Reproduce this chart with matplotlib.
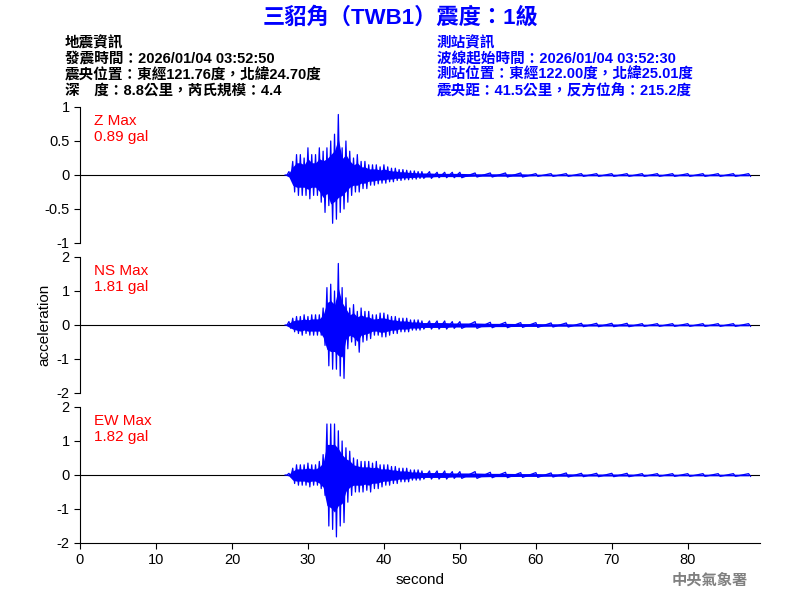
import matplotlib
matplotlib.use("Agg")
import matplotlib.pyplot as plt
import numpy as np

plt.rcParams['font.family'] = ['Liberation Sans', 'Noto Sans CJK TC', 'DejaVu Sans']

t_fine = [27.0,27.5,28,28.5,29,29.5,30,30.5,31,31.5,32,32.5,33,33.5,34,34.5,35,35.5,36,36.5,37,37.5,38,38.5,39,39.5,40,40.5,41,41.5,42,42.5,43,43.5,44,44.5,45]
t_coarse = [46,47,48,49,50,52,54,56,58,60,62,64,66,68,70,72,74,76,78,80,82,84,86,88]

z_up = [0,0.05,0.2,0.3,0.3,0.25,0.4,0.3,0.3,0.4,0.35,0.4,0.5,0.6,0.89,0.4,0.5,0.35,0.25,0.3,0.2,0.2,0.15,0.15,0.15,0.12,0.15,0.12,0.1,0.1,0.08,0.08,0.07,0.06,0.06,0.05,0.05]
z_lo = [0,-0.05,-0.25,-0.3,-0.3,-0.3,-0.35,-0.3,-0.3,-0.4,-0.55,-0.45,-0.71,-0.65,-0.55,-0.5,-0.4,-0.3,-0.25,-0.25,-0.2,-0.2,-0.15,-0.15,-0.13,-0.12,-0.12,-0.1,-0.1,-0.08,-0.08,-0.07,-0.07,-0.06,-0.06,-0.05,-0.05]
z_up_c = [0.05,0.04,0.04,0.04,0.04,0.03,0.03,0.03,0.03,0.02,0.02,0.02,0.02,0.02,0.02,0.02,0.02,0.02,0.02,0.02,0.02,0.02,0.02,0.02]

ns_up = [0,0.1,0.2,0.25,0.25,0.3,0.25,0.3,0.3,0.3,0.5,1.1,1.2,1.0,1.81,1.1,0.8,0.5,0.6,0.4,0.5,0.4,0.4,0.3,0.3,0.35,0.35,0.3,0.25,0.25,0.2,0.2,0.2,0.15,0.15,0.15,0.12]
ns_lo = [0,-0.1,-0.2,-0.25,-0.3,-0.25,-0.3,-0.3,-0.3,-0.3,-0.6,-1.2,-1.3,-1.3,-1.5,-1.57,-0.7,-0.5,-0.6,-0.8,-0.5,-0.45,-0.4,-0.3,-0.3,-0.35,-0.35,-0.3,-0.25,-0.25,-0.2,-0.2,-0.2,-0.15,-0.15,-0.15,-0.12]
ns_up_c = [0.12,0.12,0.12,0.1,0.1,0.1,0.08,0.08,0.07,0.07,0.06,0.06,0.05,0.05,0.05,0.05,0.04,0.04,0.04,0.04,0.04,0.04,0.04,0.04]

ew_up = [0,0.05,0.2,0.3,0.3,0.3,0.35,0.3,0.3,0.4,0.6,1.5,1.5,1.5,1.3,1.0,0.8,0.7,0.5,0.45,0.4,0.4,0.4,0.35,0.4,0.3,0.3,0.3,0.25,0.25,0.2,0.2,0.2,0.15,0.15,0.15,0.12]
ew_lo = [0,-0.05,-0.25,-0.3,-0.3,-0.3,-0.35,-0.3,-0.3,-0.4,-0.6,-1.5,-1.6,-1.82,-1.5,-1.4,-0.8,-0.6,-0.5,-0.5,-0.5,-0.45,-0.5,-0.4,-0.4,-0.35,-0.3,-0.3,-0.25,-0.25,-0.2,-0.2,-0.2,-0.15,-0.15,-0.15,-0.12]
ew_up_c = [0.12,0.12,0.12,0.1,0.1,0.1,0.08,0.08,0.07,0.07,0.06,0.06,0.05,0.05,0.05,0.05,0.04,0.04,0.04,0.04,0.04,0.04,0.04,0.04]

labels = ["Z Max\n0.89 gal", "NS Max\n1.81 gal", "EW Max\n1.82 gal"]
ylims = [1, 2, 2]
yticks = [[-1,-0.5,0,0.5,1],[-2,-1,0,1,2],[-2,-1,0,1,2]]

fig = plt.figure(figsize=(8,6), dpi=100)
W, H = 800, 600
panels = [(107,243),(257,393),(407,543)]
data = [(z_up,z_lo,z_up_c),(ns_up,ns_lo,ns_up_c),(ew_up,ew_lo,ew_up_c)]
t = np.array(t_fine + t_coarse)
for i,((top,bot),(up,lo,uc)) in enumerate(zip(panels,data)):
    ax = fig.add_axes([80/W, 1-bot/H, 680/W, (bot-top)/H])
    u = np.array(up + uc); l = np.array(lo + [-v for v in uc])
    tt = np.empty(2*len(t)); yy = np.empty(2*len(t))
    tt[0::2] = t; tt[1::2] = t + 0.25
    yy[0::2] = u; yy[1::2] = l
    ax.fill_between(t, 0.6*l, 0.6*u, color='blue', lw=0)
    ax.plot(tt, yy, color='blue', lw=0.9)
    ax.axhline(0, color='black', lw=0.8, zorder=0)
    ax.set_xlim(0, 89.5); ax.set_ylim(-ylims[i], ylims[i])
    ax.set_yticks(yticks[i]); ax.set_yticklabels([f"{v:g}" for v in yticks[i]])
    for s in ['top','right']: ax.spines[s].set_visible(False)
    ax.tick_params(labelsize=10.5, direction='out', length=4)
    ax.text(0.02, 0.95, labels[i], transform=ax.transAxes, color='red', fontsize=11, va='top')
    if i < 2:
        ax.spines['bottom'].set_visible(False); ax.set_xticks([])
    else:
        ax.set_xticks(range(0,90,10))
        ax.set_xlabel("second", fontsize=11)
    if i == 1:
        ax.set_ylabel("acceleration", fontsize=11)

fig.text(400/W, 1-18/H, "三貂角（TWB1）震度：1級", color='blue', fontsize=16, fontweight='bold', ha='center', va='center')
left = ["地震資訊","發震時間：2026/01/04 03:52:50","震央位置：東經121.76度，北緯24.70度","深　度：8.8公里，芮氏規模：4.4"]
right = ["測站資訊","波線起始時間：2026/01/04 03:52:30","測站位置：東經122.00度，北緯25.01度","震央距：41.5公里，反方位角：215.2度"]
for k,(a,b) in enumerate(zip(left,right)):
    y = 1-(43+16*k)/H
    fig.text(65/W, y, a, fontsize=10.5, fontweight='bold', va='center', color='black')
    fig.text(437/W, y, b, fontsize=10.5, fontweight='bold', va='center', color='blue')
fig.text(748/W, 1-580/H, "中央氣象署", fontsize=11, fontweight='bold', color='gray', ha='right', va='center')
fig.savefig("out.png", dpi=100)
